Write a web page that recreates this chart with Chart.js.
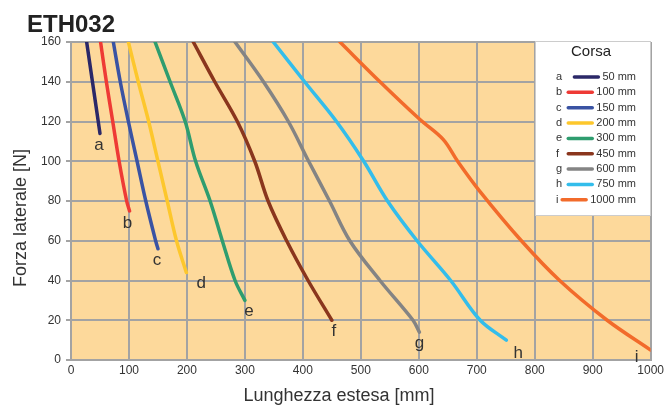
<!DOCTYPE html>
<html>
<head>
<meta charset="utf-8">
<script src="https://cdn.jsdelivr.net/npm/chart.js@4"></script>
<style>
  html, body { margin: 0; padding: 0; background: #ffffff; }
  #wrap { width: 664px; height: 405px; }
</style>
</head>
<body>
<div id="wrap"><canvas id="chart" width="664" height="405"></canvas></div>
<script>
// Stroke (Corsa) curves: [length mm, lateral force N]
const strokeLetters = ["a", "b", "c", "d", "e", "f", "g", "h", "i"];
const strokeNames = ["50 mm", "100 mm", "150 mm", "200 mm", "300 mm", "450 mm", "600 mm", "750 mm", "1000 mm"];

const curveA = [[27, 160], [37, 140], [47, 120], [50, 114]];
const curveB = [[51, 160], [61, 140], [72, 120], [83, 100], [96, 80], [101, 75]];
const curveC = [[73, 160], [85, 140], [99, 120], [114, 100], [129, 80], [146, 60], [150, 56]];
const curveD = [[99, 160], [116, 140], [134, 120], [150, 100], [166, 80], [182, 60], [199, 44]];
const curveE = [[145, 160], [171, 140], [197, 120], [215, 100], [240, 80], [261, 60], [283, 40], [300, 30]];
const curveF = [[211, 160], [248, 140], [287, 120], [317, 100], [340, 80], [372, 60], [409, 40], [450, 20]];
const curveG = [[283, 160], [332, 140], [375, 120], [410, 100], [446, 80], [481, 60], [533, 40], [590, 20], [601, 14]];
const curveH = [[349, 160], [403, 140], [458, 120], [505, 100], [546, 80], [597, 60], [655, 40], [706, 20], [751, 10]];
const curveI = [[464, 160], [533, 140], [602, 121], [642, 111], [667, 100], [705, 85], [777, 60], [843, 40], [925, 20], [1000, 5]];

const curves = [curveA, curveB, curveC, curveD, curveE, curveF, curveG, curveH, curveI];

const xTicks = { min: 0, max: 1000, step: 100 };
const yTicks = { min: 0, max: 160, step: 20 };

// styling
const colors = ["#2b2868", "#ee3a35", "#3a53a3", "#fdc72c", "#2f9d6f", "#8a361d", "#848484", "#33bdeb", "#f26b2b"];
// pixel offset of the end letter from each curve's last point
const letterOffsets = [[-1, 12], [-2, 12], [-1, 12], [15, 11], [4, 11], [2, 11], [0, 11], [12, 13], [-14, 7]];

const FONT = "'Liberation Sans', Arial, Helvetica, sans-serif";
const GRID = "#a3a3a3";
const TEXT = "#333333";

const decorations = {
  id: "decorations",
  beforeDraw(chart) {
    const { ctx, chartArea: a } = chart;
    ctx.save();
    ctx.fillStyle = "#fdd99b";
    ctx.fillRect(a.left, a.top, a.right - a.left, a.bottom - a.top);
    ctx.restore();
  },
  afterDraw(chart) {
    const ctx = chart.ctx;
    const xs = chart.scales.x;
    const ys = chart.scales.y;
    ctx.save();

    // title
    ctx.fillStyle = "#222222";
    ctx.font = "bold 24px " + FONT;
    ctx.textAlign = "left";
    ctx.textBaseline = "alphabetic";
    ctx.fillText("ETH032", 27, 32);

    // axis titles
    ctx.fillStyle = TEXT;
    ctx.font = "18px " + FONT;
    ctx.textAlign = "center";
    ctx.fillText("Lunghezza estesa [mm]", 339, 401);
    ctx.save();
    ctx.translate(21, 218);
    ctx.rotate(-Math.PI / 2);
    ctx.textBaseline = "middle";
    ctx.fillText("Forza laterale [N]", 0, 0);
    ctx.restore();

    // end-of-curve letters
    ctx.font = "17px " + FONT;
    ctx.textBaseline = "middle";
    curves.forEach((c, i) => {
      const last = c[c.length - 1];
      const px = xs.getPixelForValue(last[0]) + letterOffsets[i][0];
      const py = ys.getPixelForValue(last[1]) + letterOffsets[i][1];
      ctx.fillText(strokeLetters[i], px, py);
    });

    // legend box
    const bx = 535, by = 41, bw = 116, bh = 175;
    ctx.fillStyle = "#ffffff";
    ctx.fillRect(bx, by, bw, bh);
    ctx.strokeStyle = "#cccccc";
    ctx.lineWidth = 1;
    ctx.strokeRect(bx + 0.5, by + 0.5, bw - 1, bh - 1);

    ctx.fillStyle = "#222222";
    ctx.font = "15px " + FONT;
    ctx.textAlign = "center";
    ctx.fillText("Corsa", 591, 52);

    ctx.font = "11px " + FONT;
    strokeNames.forEach((name, i) => {
      const y = 77 + i * 15.35;
      ctx.fillStyle = TEXT;
      ctx.textAlign = "left";
      ctx.fillText(strokeLetters[i], 556, y);
      ctx.textAlign = "right";
      ctx.fillText(name, 636, y);
      const tx = 636 - ctx.measureText(name).width;
      ctx.strokeStyle = colors[i];
      ctx.lineWidth = 3.5;
      ctx.lineCap = "round";
      ctx.beginPath();
      ctx.moveTo(tx - 28, y);
      ctx.lineTo(tx - 4, y);
      ctx.stroke();
    });
    ctx.restore();
  },
};

const ctx = document.getElementById("chart").getContext("2d");

new Chart(ctx, {
  type: "line",
  data: {
    datasets: curves.map((c, i) => ({
      label: strokeNames[i],
      data: c.map((p) => ({ x: p[0], y: p[1] })),
      borderColor: colors[i],
      borderWidth: 3.5,
      borderCapStyle: "round",
      borderJoinStyle: "round",
      pointRadius: 0,
      fill: false,
      tension: 0.35,
    })),
  },
  options: {
    responsive: false,
    animation: false,
    layout: { padding: { top: 42, right: 10, left: 0, bottom: 0 } },
    plugins: {
      legend: { display: false },
      tooltip: { enabled: false },
    },
    scales: {
      x: {
        type: "linear",
        min: xTicks.min,
        max: xTicks.max,
        afterFit(scale) { scale.height = 45; },
        ticks: {
          stepSize: xTicks.step,
          color: TEXT,
          padding: 0,
          maxRotation: 0,
          font: { size: 12, family: FONT },
          callback: (v) => String(v),
        },
        grid: { color: GRID, lineWidth: 2, drawTicks: true, tickLength: 3, tickColor: "rgba(0,0,0,0)" },
        border: { color: GRID, width: 2 },
      },
      y: {
        type: "linear",
        min: yTicks.min,
        max: yTicks.max,
        afterFit(scale) { scale.width = 71; },
        ticks: {
          stepSize: yTicks.step,
          color: TEXT,
          padding: 5,
          font: { size: 12, family: FONT },
        },
        grid: { color: GRID, lineWidth: 2, tickLength: 5 },
        border: { color: GRID, width: 2 },
      },
    },
  },
  plugins: [decorations],
});
</script>
</body>
</html>
